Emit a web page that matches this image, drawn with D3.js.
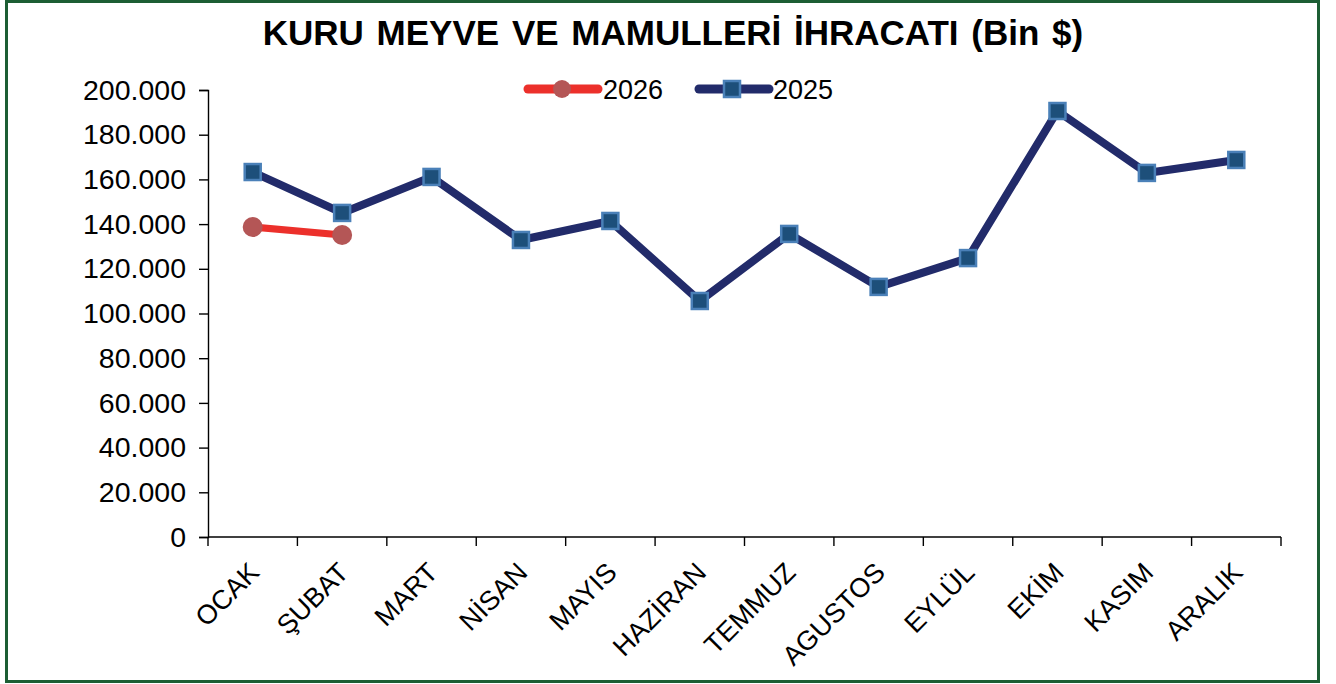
<!DOCTYPE html>
<html>
<head>
<meta charset="utf-8">
<script src="https://cdn.jsdelivr.net/npm/d3@7"></script>
<style>
  body { margin: 0; background: #fff; }
  svg text { font-family: "Liberation Sans", Arial, sans-serif; fill: #000; }
</style>
</head>
<body>
<div id="chart"></div>
<script>
const months = ['OCAK', 'ŞUBAT', 'MART', 'NİSAN', 'MAYIS', 'HAZİRAN', 'TEMMUZ', 'AGUSTOS', 'EYLÜL', 'EKİM', 'KASIM', 'ARALIK'];
const values2025 = [163300, 145000, 161100, 132900, 141400, 105600, 135600, 111900, 124800, 190600, 162900, 168700];
const values2026 = [138700, 135100];
const yTicks = [0, 20000, 40000, 60000, 80000, 100000, 120000, 140000, 160000, 180000, 200000];

const w = 1336, h = 684;
const plotLeft = 208, plotRight = 1281, plotTop = 90, plotBottom = 537;

const svg = d3.select('#chart').append('svg')
  .attr('width', w)
  .attr('height', h);

// frame
svg.append('rect')
   .attr('x', 6.5).attr('y', 1.5)
   .attr('width', 1312).attr('height', 680)
   .attr('fill', '#fff')
   .attr('stroke', '#1d5e34')
   .attr('stroke-width', 3);

svg.append('text')
   .attr('x', 673)
   .attr('y', 45)
   .attr('text-anchor', 'middle')
   .style('font-size', '35px')
   .style('font-weight', 'bold')
   .style('word-spacing', '3px')
   .text('KURU MEYVE VE MAMULLERİ İHRACATI (Bin $)');

const x = d3.scaleBand().domain(months).range([plotLeft, plotRight]);
const y = d3.scaleLinear().domain([0, 200000]).range([plotBottom, plotTop]);

const fmt = v => v === 0 ? '0' : d3.format(',')(v).replace(/,/g, '.');

// y axis
const yAxis = svg.append('g')
  .attr('transform', `translate(${plotLeft},0)`)
  .call(d3.axisLeft(y).tickValues(yTicks).tickFormat(fmt).tickSize(9).tickPadding(13));
yAxis.select('.domain').attr('stroke', '#000').attr('stroke-width', 1.4);
yAxis.selectAll('.tick line').attr('stroke', '#000').attr('stroke-width', 1.4);
yAxis.selectAll('text').style('font-size', '28.5px').attr('font-family', null);

// x axis - ticks between categories
const xAxis = svg.append('g').attr('transform', `translate(0,${plotBottom})`);
xAxis.append('line')
     .attr('x1', plotLeft).attr('x2', plotRight)
     .attr('stroke', '#000').attr('stroke-width', 1.4);
xAxis.selectAll('line.tk')
     .data(d3.range(months.length + 1))
     .enter().append('line')
     .attr('class', 'tk')
     .attr('x1', i => plotLeft + i * x.step())
     .attr('x2', i => plotLeft + i * x.step())
     .attr('y1', 0).attr('y2', 9)
     .attr('stroke', '#000').attr('stroke-width', 1.4);
xAxis.selectAll('text')
     .data(months)
     .enter().append('text')
     .attr('text-anchor', 'end')
     .attr('transform', d => `translate(${x(d) + x.bandwidth() / 2 + 8},${37}) rotate(-45)`)
     .style('font-size', '27px')
     .text(d => d);

const cx = d => x(d) + x.bandwidth() / 2;

const line = d3.line().x(d => cx(d.m)).y(d => y(d.v));
const d25 = months.map((m, i) => ({ m, v: values2025[i] }));
const d26 = values2026.map((v, i) => ({ m: months[i], v }));

// 2025 series
svg.append('path')
   .datum(d25)
   .attr('d', line)
   .attr('fill', 'none')
   .attr('stroke', '#222b6a')
   .attr('stroke-width', 8)
   .attr('stroke-linejoin', 'round');

svg.selectAll('rect.m25')
   .data(d25)
   .enter().append('rect')
   .attr('class', 'm25')
   .attr('x', d => cx(d.m) - 8)
   .attr('y', d => y(d.v) - 8)
   .attr('width', 16).attr('height', 16)
   .attr('fill', '#1d4f7a')
   .attr('stroke', '#4a80b8')
   .attr('stroke-width', 2.5);

// 2026 series
svg.append('path')
   .datum(d26)
   .attr('d', line)
   .attr('fill', 'none')
   .attr('stroke', '#ec302b')
   .attr('stroke-width', 7);

svg.selectAll('circle.m26')
   .data(d26)
   .enter().append('circle')
   .attr('class', 'm26')
   .attr('cx', d => cx(d.m))
   .attr('cy', d => y(d.v))
   .attr('r', 10)
   .attr('fill', '#b45656');

// legend
const legend = svg.append('g');
legend.append('line')
      .attr('x1', 528).attr('x2', 598).attr('y1', 89).attr('y2', 89)
      .attr('stroke', '#ec302b').attr('stroke-width', 9).attr('stroke-linecap', 'round');
legend.append('circle')
      .attr('cx', 562).attr('cy', 89).attr('r', 9)
      .attr('fill', '#b45656');
legend.append('text')
      .attr('x', 603).attr('y', 99)
      .style('font-size', '27px')
      .text('2026');
legend.append('line')
      .attr('x1', 699).attr('x2', 769).attr('y1', 89).attr('y2', 89)
      .attr('stroke', '#222b6a').attr('stroke-width', 9).attr('stroke-linecap', 'round');
legend.append('rect')
      .attr('x', 724).attr('y', 81).attr('width', 16).attr('height', 16)
      .attr('fill', '#1d4f7a').attr('stroke', '#4a80b8').attr('stroke-width', 2.5);
legend.append('text')
      .attr('x', 773).attr('y', 99)
      .style('font-size', '27px')
      .text('2025');
</script>
</body>
</html>
